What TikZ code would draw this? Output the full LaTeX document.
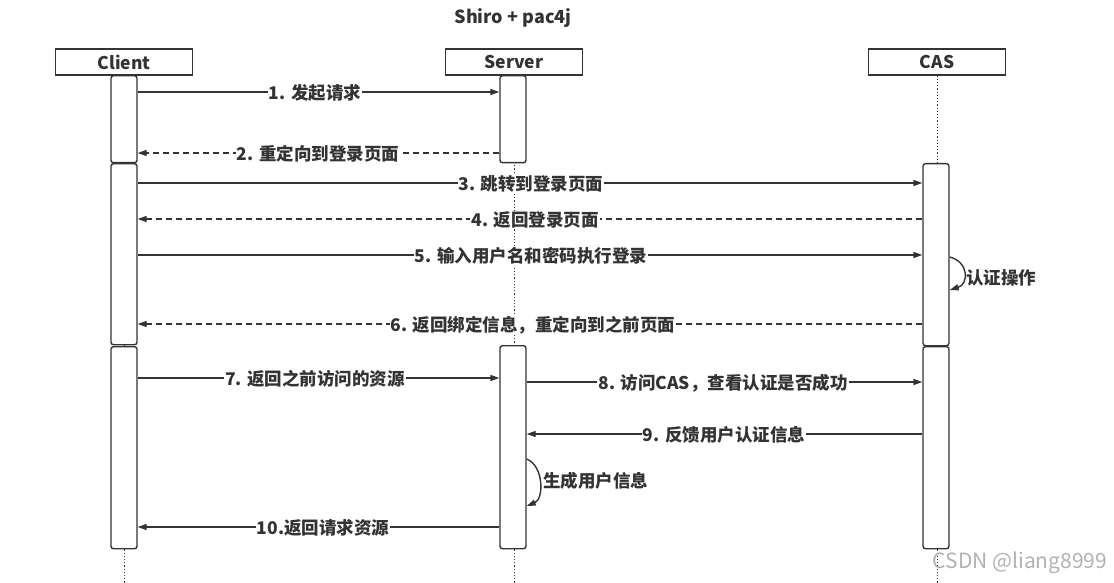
\documentclass[tikz,border=0pt]{standalone}
\usepackage{fontspec}
\setmainfont{Noto Sans CJK SC}
\usetikzlibrary{arrows.meta}
\definecolor{ln}{HTML}{333333}
\definecolor{tx}{HTML}{333333}
\begin{document}
\begin{tikzpicture}[x=1pt,y=-1pt,
  head/.style={draw=ln, line width=1.4pt, fill=white, minimum width=137pt, minimum height=26pt, inner sep=0pt, font=\bfseries\fontsize{17.5}{20}\selectfont, text=tx},
  bar/.style={draw=ln, line width=1.4pt, fill=white, rounded corners=2.5pt, minimum width=26pt, anchor=north, inner sep=0pt},
  life/.style={draw=ln, line width=1pt, dash pattern=on 1.2pt off 2pt},
  msg/.style={draw=ln, line width=1.4pt, -{Triangle[length=9pt,width=6pt]}},
  ret/.style={msg, dash pattern=on 6pt off 4pt},
  lbl/.style={fill=white, inner sep=1pt, font=\bfseries\fontsize{17.5}{20}\selectfont, text=tx},
  selflbl/.style={inner sep=1pt, font=\bfseries\fontsize{17.5}{20}\selectfont, text=tx, anchor=west}]
\useasboundingbox (0,0) rectangle (1114,583);
\fill[white] (0,0) rectangle (1114,583);

\node[font=\bfseries\fontsize{18}{21}\selectfont, text=tx] (title) at (513,18) {Shiro + pac4j};

\node[head] (client) at (124,62) {Client};
\node[head] (server) at (514,62) {Server};
\node[head] (cas) at (937,62) {CAS};

\coordinate (cend) at (124,583);
\coordinate (send) at (514,583);
\coordinate (aend) at (937,583);
\draw[life] (client.south) -- (cend);
\draw[life] (server.south) -- (send);
\draw[life] (cas.south) -- (aend);

\node[bar, minimum height=87pt] (cb1) at (124,75) {};
\node[bar, minimum height=181pt] (cb2) at (124,163) {};
\node[bar, minimum height=202pt] (cb3) at (124,346) {};
\node[bar, minimum height=87pt] (sb1) at (513,75) {};
\node[bar, minimum height=203pt] (sb2) at (513,345) {};
\node[bar, minimum height=182pt] (ab1) at (936,163) {};
\node[bar, minimum height=202pt] (ab2) at (936,346) {};

\coordinate (m1) at (0,92);
\coordinate (m2) at (0,153);
\coordinate (m3) at (0,183);
\coordinate (m4) at (0,219);
\coordinate (m5) at (0,255);
\coordinate (m6) at (0,324);
\coordinate (m7) at (0,378);
\coordinate (m8) at (0,382);
\coordinate (m9) at (0,434);
\coordinate (m10) at (0,527);

\draw[msg] (cb1.east |- m1) -- (sb1.west |- m1);
\draw[ret] (sb1.west |- m2) -- (cb1.east |- m2);
\draw[msg] (cb2.east |- m3) -- (ab1.west |- m3);
\draw[ret] (ab1.west |- m4) -- (cb2.east |- m4);
\draw[msg] (cb2.east |- m5) -- (ab1.west |- m5);
\draw[ret] (ab1.west |- m6) -- (cb2.east |- m6);
\draw[msg] (cb3.east |- m7) -- (sb2.west |- m7);
\draw[msg] (sb2.east |- m8) -- (ab2.west |- m8);
\draw[msg] (ab2.west |- m9) -- (sb2.east |- m9);
\draw[msg] (sb2.west |- m10) -- (cb3.east |- m10);

\coordinate (l1a) at (0,257);
\coordinate (l1b) at (0,290);
\draw[msg] (ab1.east |- l1a) .. controls (969,262) and (969,284) .. (ab1.east |- l1b);
\coordinate (l2a) at (0,459);
\coordinate (l2b) at (0,506);
\draw[msg] (sb2.east |- l2a) .. controls (544,466) and (544,499) .. (sb2.east |- l2b);

\node[lbl] (t1) at (315,93) {1. 发起请求};
\node[lbl] (t2) at (318,154) {2. 重定向到登录页面};
\node[lbl] (t3) at (531,184) {3. 跳转到登录页面};
\node[lbl] (t4) at (535,220) {4. 返回登录页面};
\node[lbl] (t5) at (531,256) {5. 输入用户名和密码执行登录};
\node[lbl] (t6) at (533,325) {6. 返回绑定信息，重定向到之前页面};
\node[lbl] (t7) at (315,379) {7. 返回之前访问的资源};
\node[lbl] (t8) at (723,383) {8. 访问CAS，查看认证是否成功};
\node[lbl] (t9) at (724,435) {9. 反馈用户认证信息};
\node[lbl] (t10) at (323,528) {10.返回请求资源};
\node[selflbl] (s1) at (965,278) {认证操作};
\node[selflbl] (s2) at (542,481) {生成用户信息};

\node[text=black!30, font=\fontsize{21}{24}\selectfont] (wm) at (1020,563) {CSDN @liang8999};
\end{tikzpicture}
\end{document}
